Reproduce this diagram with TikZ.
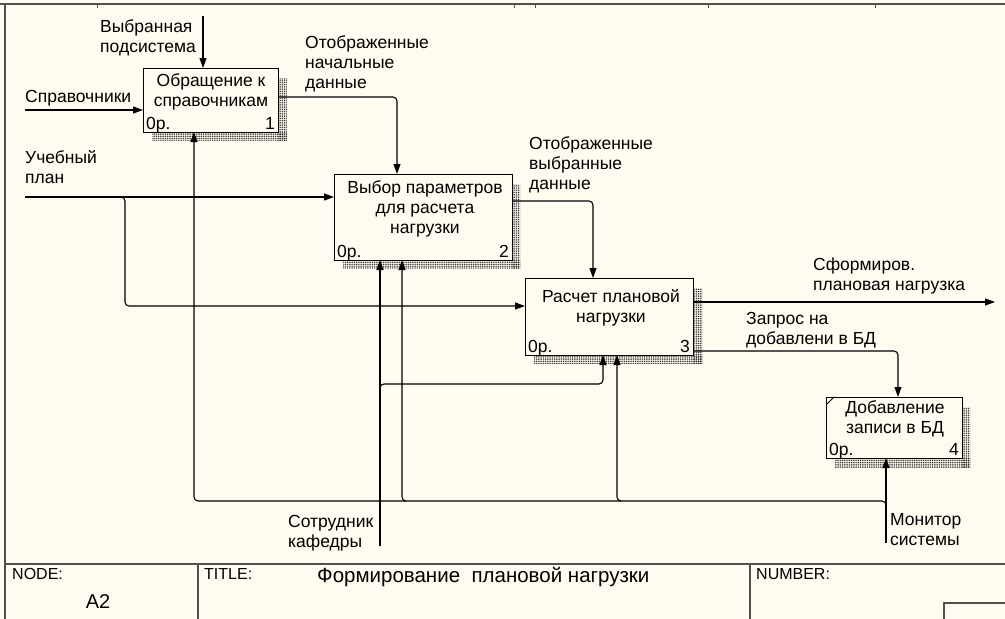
\documentclass[tikz,border=0pt]{standalone}
\usepackage{fontspec}
\setmainfont{Liberation Sans}
\usetikzlibrary{arrows.meta,patterns.meta,calc}
\definecolor{cream}{HTML}{FFFBF0}
\definecolor{frame}{HTML}{505050}
\begin{document}
\begin{tikzpicture}[x=1pt,y=-1pt,
  box/.style={draw=black, line width=1.1pt, fill=cream, anchor=north west, inner sep=0pt},
  shade/.style={pattern={Dots[distance=1.8pt,radius=0.65pt]}, pattern color=black!85},
  lbl/.style={font=\fontsize{17.5}{20}\selectfont, inner sep=0pt, align=left, anchor=north west},
  btxt/.style={font=\fontsize{17.5}{20}\selectfont, inner sep=0pt, align=center, anchor=north},
  corner/.style={font=\fontsize{17.5}{20}\selectfont, inner sep=0pt},
  tbl/.style={font=\fontsize{16}{18}\selectfont, inner sep=0pt, anchor=base west},
  conn/.style={line width=1.1pt, draw=black, rounded corners=4pt},
  arr/.style={conn, -{Triangle[length=10pt,width=7pt]}},
  frm/.style={draw=frame, line width=1.6pt}
]
\useasboundingbox (0,0) rectangle (1005,619);
\fill[cream] (0,0) rectangle (1005,619);

% frame
\draw[frm, line width=2pt] (0,4) -- (1005,4);
\draw[frm] (5,4) -- (5,619);
\draw[frm] (5,564) -- (1005,564);
\draw[frm] (198,564) -- (198,619);
\draw[frm] (750,564) -- (750,619);
\draw[frm] (944,619) -- (944,603) -- (1005,603);
\foreach \tx in {97,514,535,708,875} \draw[frm, line width=1pt] (\tx,4) -- (\tx,8);

% shadows
\fill[shade] (278,78) rectangle (287,140);
\fill[shade] (152,132) rectangle (287,140);
\fill[shade] (512,184) rectangle (520,268);
\fill[shade] (343,260) rectangle (520,268);
\fill[shade] (693,288) rectangle (702,363);
\fill[shade] (534,355) rectangle (702,363);
\fill[shade] (962,407) rectangle (970,467);
\fill[shade] (835,458) rectangle (970,467);

% boxes
\node[box, minimum width=135pt, minimum height=64pt] (b1) at (143,68) {};
\node[box, minimum width=178pt, minimum height=86pt] (b2) at (334,174) {};
\node[box, minimum width=168pt, minimum height=77pt] (b3) at (525,278) {};
\node[box, minimum width=136pt, minimum height=61pt] (b4) at (826,397) {};
\draw[line width=1pt] ($(b4.north west)+(0,8)$) -- ($(b4.north west)+(8,0)$);

% box texts
\node[btxt] (b1t) at (211,73) {Обращение к\\справочникам};
\node[btxt] (b2t) at (425,180) {Выбор параметров\\для расчета\\нагрузки};
\node[btxt] (b3t) at (611,289) {Расчет плановой\\нагрузки};
\node[btxt] (b4t) at (895,400) {Добавление\\записи в БД};
\node[corner, anchor=base west] (b1o) at ($(b1.south west)+(3,-4)$) {0р.};
\node[corner, anchor=base east] (b1n) at ($(b1.south east)+(-4,-4)$) {1};
\node[corner, anchor=base west] (b2o) at ($(b2.south west)+(3,-4)$) {0р.};
\node[corner, anchor=base east] (b2n) at ($(b2.south east)+(-4,-4)$) {2};
\node[corner, anchor=base west] (b3o) at ($(b3.south west)+(3,-4)$) {0р.};
\node[corner, anchor=base east] (b3n) at ($(b3.south east)+(-4,-4)$) {3};
\node[corner, anchor=base west] (b4o) at ($(b4.south west)+(3,-4)$) {0р.};
\node[corner, anchor=base east] (b4n) at ($(b4.south east)+(-4,-4)$) {4};

% labels
\node[lbl] (l1) at (100,19) {Выбранная\\подсистема};
\node[lbl] (l2) at (25,90) {Справочники};
\node[lbl] (l3) at (305,35) {Отображенные\\начальные\\данные};
\node[lbl] (l4) at (25,150) {Учебный\\план};
\node[lbl] (l5) at (529,136) {Отображенные\\выбранные\\данные};
\node[lbl] (l6) at (813,258) {Сформиров.\\плановая нагрузка};
\node[lbl] (l7) at (746,312) {Запрос на\\добавлени в БД};
\node[lbl] (l8) at (890,513) {Монитор\\системы};
\node[lbl] (l9) at (288,515) {Сотрудник\\кафедры};

% port coordinates
\coordinate (s1) at (203,16);
\coordinate (b1c) at (203,68);
\coordinate (s2) at (25,110);
\coordinate (b1i) at (143,110);
\coordinate (b1o1) at (278,97);
\coordinate (b2c) at (397,174);
\coordinate (s4) at (25,197);
\coordinate (b2i) at (334,197);
\coordinate (j1) at (119,197);
\coordinate (j1c) at (125,306);
\coordinate (b3i) at (525,306);
\coordinate (b2o1) at (512,201);
\coordinate (b3c) at (593,278);
\coordinate (b3o1) at (693,302);
\coordinate (e3) at (995,302);
\coordinate (b3o2) at (693,351);
\coordinate (b4c) at (898,397);
\coordinate (m0) at (886,543);
\coordinate (b4m) at (886,458);
\coordinate (m1) at (886,506);
\coordinate (m2) at (194,501);
\coordinate (b1m) at (194,132);
\coordinate (m3) at (406,501);
\coordinate (b2m) at (402,260);
\coordinate (m4) at (621,501);
\coordinate (b3m2) at (617,355);
\coordinate (p0) at (380,546);
\coordinate (b2m1) at (380,260);
\coordinate (p1) at (380,389);
\coordinate (p2) at (603,384);
\coordinate (b3m1) at (603,355);

% connectors
\draw[arr] (s1) -- (b1c);
\draw[arr] (s2) -- (b1i);
\draw[arr] (b1o1) -| (b2c);
\draw[arr] (s4) -- (b2i);
\draw[arr] (j1) -| (j1c) -- (b3i);
\draw[arr] (b2o1) -| (b3c);
\draw[arr] (b3o1) -- (e3);
\draw[arr] (b3o2) -| (b4c);
\draw[arr] (m0) -- (b4m);
\draw[arr] (m1) |- (m2) -- (b1m);
\draw[arr] (m3) -| (b2m);
\draw[arr] (m4) -| (b3m2);
\draw[arr] (p0) -- (b2m1);
\draw[arr] (p1) |- (p2) -- (b3m1);

% table
\node[tbl] (tn) at (12,579) {NODE:};
\node[font=\fontsize{20}{22}\selectfont, inner sep=0pt, anchor=base] (ta) at (98,608) {A2};
\node[tbl] (tt) at (204,579) {TITLE:};
\node[font=\fontsize{20.5}{22}\selectfont, inner sep=0pt, anchor=base west] (ttl) at (317,582) {Формирование\ \ плановой нагрузки};
\node[tbl] (tnum) at (756,579) {NUMBER:};
\end{tikzpicture}
\end{document}
